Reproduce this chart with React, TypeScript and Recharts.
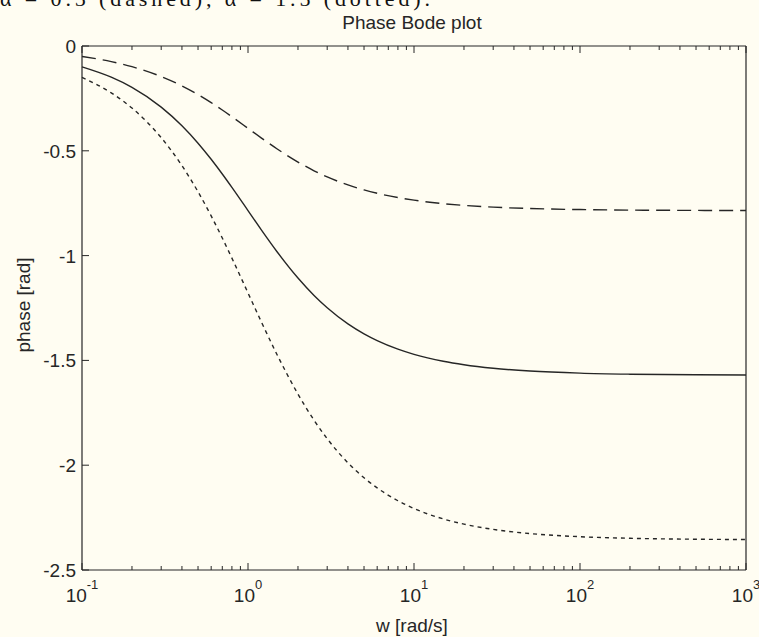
import { LineChart, Line, XAxis, YAxis } from "recharts";

// frequency samples (rad/s)
const freq = [
  0.1, 0.15, 0.2, 0.3, 0.4, 0.5, 0.6, 0.7, 0.8, 1, 1.2, 1.5, 2, 2.5, 3, 4, 5,
  6, 8, 10, 15, 20, 30, 50, 100, 200, 500, 1000,
];
// alpha = 1 (solid)
const phaseSolid = [
  -0.0997, -0.1489, -0.1974, -0.2915, -0.3805, -0.4636, -0.5404, -0.6107,
  -0.6747, -0.7854, -0.8761, -0.9828, -1.1071, -1.1903, -1.249, -1.3258,
  -1.3734, -1.4056, -1.4464, -1.4711, -1.5042, -1.5208, -1.5375, -1.5508,
  -1.5608, -1.5658, -1.5688, -1.5698,
];
// alpha = 0.5 (dashed)
const phaseDashed = [
  -0.0499, -0.0745, -0.0987, -0.1458, -0.1903, -0.2318, -0.2702, -0.3054,
  -0.3374, -0.3927, -0.4381, -0.4914, -0.5536, -0.5952, -0.6245, -0.6629,
  -0.6867, -0.7028, -0.7232, -0.7356, -0.7521, -0.7604, -0.7688, -0.7754,
  -0.7804, -0.7829, -0.7844, -0.7849,
];
// alpha = 1.5 (dotted)
const phaseDotted = [
  -0.1496, -0.2234, -0.2961, -0.4373, -0.5708, -0.6954, -0.8106, -0.9161,
  -1.0121, -1.1781, -1.3142, -1.4742, -1.6607, -1.7855, -1.8735, -1.9887,
  -2.0601, -2.1084, -2.1696, -2.2067, -2.2563, -2.2812, -2.3063, -2.3262,
  -2.3412, -2.3487, -2.3532, -2.3547,
];

const majorTicks = [0.1, 1, 10, 100, 1000];
const majorExp = ["-1", "0", "1", "2", "3"];
const minorTicks = [
  0.2, 0.3, 0.4, 0.5, 0.6, 0.7, 0.8, 0.9, 2, 3, 4, 5, 6, 7, 8, 9, 20, 30, 40,
  50, 60, 70, 80, 90, 200, 300, 400, 500, 600, 700, 800, 900,
];
const yTicks = [0, -0.5, -1, -1.5, -2, -2.5];
const yTickLabels = ["0", "-0.5", "-1", "-1.5", "-2", "-2.5"];

const allXTicks = [...majorTicks, ...minorTicks].sort((a, b) => a - b);

const data = freq.map((w, i) => ({
  w,
  solid: phaseSolid[i],
  dashed: phaseDashed[i],
  dotted: phaseDotted[i],
}));

const bg = "#fffdf2";
const ink = "#262626";
const font = "'Liberation Sans', Arial, sans-serif";

function BottomTick(props: any) {
  const { x, y, payload } = props;
  const idx = majorTicks.indexOf(payload.value);
  const major = idx >= 0;
  return (
    <g>
      <line x1={x} x2={x} y1={y} y2={y - (major ? 7 : 4)} stroke={ink} strokeWidth={1} />
      {major && (
        <text x={x} y={y + 32} textAnchor="middle" fontSize={19} fill={ink} fontFamily={font}>
          10
          <tspan dy={-13} fontSize={13}>
            {majorExp[idx]}
          </tspan>
        </text>
      )}
    </g>
  );
}

function TopTick(props: any) {
  const { x, y, payload } = props;
  const major = majorTicks.includes(payload.value);
  return <line x1={x} x2={x} y1={y} y2={y + (major ? 7 : 4)} stroke={ink} strokeWidth={1} />;
}

function LeftTick(props: any) {
  const { x, y, index } = props;
  return (
    <g>
      <line x1={x} x2={x + 7} y1={y} y2={y} stroke={ink} strokeWidth={1} />
      <text x={x - 6} y={y + 7} textAnchor="end" fontSize={19} fill={ink} fontFamily={font}>
        {yTickLabels[index]}
      </text>
    </g>
  );
}

function RightTick(props: any) {
  const { x, y } = props;
  return <line x1={x} x2={x - 7} y1={y} y2={y} stroke={ink} strokeWidth={1} />;
}

export default function App() {
  return (
    <div
      style={{
        position: "absolute",
        left: 0,
        top: 0,
        width: 759,
        height: 637,
        background: bg,
        overflow: "hidden",
      }}
    >
      <LineChart width={759} height={637} data={data} margin={{ top: 0, right: 0, bottom: 0, left: 0 }}>
        <XAxis
          xAxisId="bottom"
          dataKey="w"
          type="number"
          scale="log"
          domain={[0.1, 1000]}
          ticks={allXTicks}
          interval={0}
          height={67}
          tickSize={0}
          tickMargin={0}
          tickLine={false}
          axisLine={{ stroke: ink, strokeWidth: 1.2 }}
          tick={BottomTick}
        />
        <XAxis
          xAxisId="top"
          orientation="top"
          dataKey="w"
          type="number"
          scale="log"
          domain={[0.1, 1000]}
          ticks={allXTicks}
          interval={0}
          height={46}
          tickSize={0}
          tickMargin={0}
          tickLine={false}
          axisLine={{ stroke: ink, strokeWidth: 1.2 }}
          tick={TopTick}
        />
        <YAxis
          yAxisId="left"
          type="number"
          domain={[-2.5, 0]}
          ticks={yTicks}
          interval={0}
          width={82}
          tickSize={0}
          tickMargin={0}
          tickLine={false}
          axisLine={{ stroke: ink, strokeWidth: 1.2 }}
          tick={LeftTick}
        />
        <YAxis
          yAxisId="right"
          orientation="right"
          type="number"
          domain={[-2.5, 0]}
          ticks={yTicks}
          interval={0}
          width={13}
          tickSize={0}
          tickMargin={0}
          tickLine={false}
          axisLine={{ stroke: ink, strokeWidth: 1.2 }}
          tick={RightTick}
        />
        <Line
          xAxisId="bottom"
          yAxisId="left"
          type="monotone"
          dataKey="dashed"
          stroke={ink}
          strokeWidth={1.4}
          strokeDasharray="14 7"
          dot={false}
          isAnimationActive={false}
        />
        <Line
          xAxisId="bottom"
          yAxisId="left"
          type="monotone"
          dataKey="solid"
          stroke={ink}
          strokeWidth={1.4}
          dot={false}
          isAnimationActive={false}
        />
        <Line
          xAxisId="bottom"
          yAxisId="left"
          type="monotone"
          dataKey="dotted"
          stroke={ink}
          strokeWidth={1.4}
          strokeDasharray="4 4"
          dot={false}
          isAnimationActive={false}
        />
      </LineChart>
      <svg
        width={759}
        height={637}
        style={{ position: "absolute", left: 0, top: 0, pointerEvents: "none" }}
      >
        <text x={0} y={6} fontSize={22} fill="#111" fontFamily="'Liberation Serif', 'DejaVu Serif', serif" textLength={430} lengthAdjust="spacing">
          α = 0.5 (dashed), α = 1.5 (dotted).
        </text>
        <text x={412} y={29} textAnchor="middle" fontSize={19} fill={ink} fontFamily={font}>
          Phase Bode plot
        </text>
        <text x={412} y={632} textAnchor="middle" fontSize={19} fill={ink} fontFamily={font}>
          w [rad/s]
        </text>
        <text
          x={0}
          y={0}
          transform="translate(30 305) rotate(-90)"
          textAnchor="middle"
          fontSize={19}
          fill={ink}
          fontFamily={font}
        >
          phase [rad]
        </text>
      </svg>
    </div>
  );
}
